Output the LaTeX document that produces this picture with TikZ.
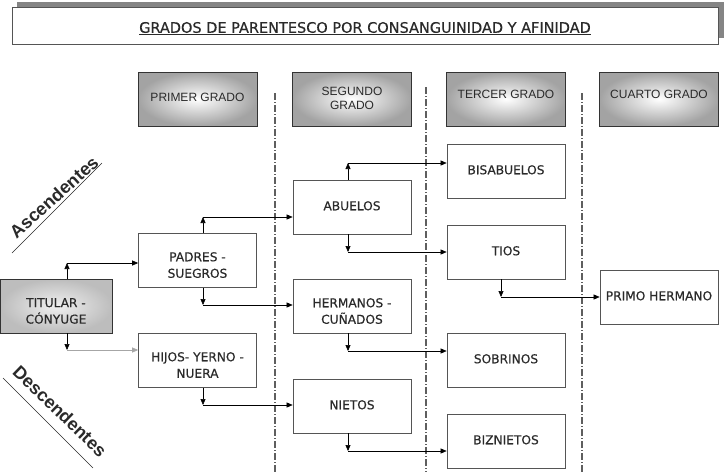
\documentclass[tikz,border=0pt]{standalone}
\usepackage{fontspec}
\setmainfont{DejaVu Sans}
\newfontfamily\boxfont[FakeBold=0.4]{DejaVu Sans}
\newfontfamily\hdrfont{Liberation Sans}
\usetikzlibrary{arrows.meta,shadings}
\definecolor{txt}{HTML}{2A2A2A}
\definecolor{bord}{HTML}{555555}
\definecolor{sepc}{HTML}{5E5E5E}
\tikzset{
  hdr/.style={draw=black!80, line width=0.8pt, inner color=white, outer color=black!36,
    minimum width=119pt, minimum height=54pt, inner sep=0pt},
  hlab/.style={font=\hdrfont\fontsize{12}{13.5}\selectfont, text=txt, align=center, inner sep=0pt},
  bbox/.style={draw=bord, line width=0.7pt, fill=white, minimum width=118pt, minimum height=54pt, inner sep=0pt},
  btext/.style={font=\boxfont\fontsize{12.2}{16.5}\selectfont, text=txt, align=center, inner sep=0pt, anchor=north},
  arr/.style={line width=0.6pt, -{Triangle[length=6pt,width=5pt]}},
  sepline/.style={draw=sepc, line width=2.1pt, dash pattern=on 7pt off 2pt on 1pt off 2pt},
  side/.style={font=\hdrfont\bfseries\fontsize{18}{20}\selectfont, text=txt, inner sep=0pt}
}
\begin{document}
\begin{tikzpicture}[x=1pt,y=-1pt]
\useasboundingbox (0,0) rectangle (725,472);
% title
\fill[black!48] (17,2) rectangle (724,38);
\node[draw=bord, line width=0.8pt, fill=white, minimum width=706pt, minimum height=37pt, inner sep=0pt] (title) at (365,25.5) {};
\node[font=\boxfont\fontsize{14.5}{16}\selectfont, text=txt, inner sep=0pt] (titlet) at (365,28.5) {\underline{GRADOS DE PARENTESCO POR CONSANGUINIDAD Y AFINIDAD}};
% separators
\draw[sepline] (275,93) -- (275,472);
\draw[sepline] (426,87) -- (426,472);
\draw[sepline] (582,93) -- (582,472);
% headers
\node[hdr] (h1) at (197.5,99) {};
\node[hdr] (h2) at (352,99) {};
\node[hdr] (h3) at (506,99) {};
\node[hdr] (h4) at (659,99) {};
\node[hlab] (h1t) at (197.5,97) {PRIMER GRADO};
\node[hlab] (h2t) at (352,98.5) {SEGUNDO\\GRADO};
\node[hlab] (h3t) at (506,94) {TERCER GRADO};
\node[hlab] (h4t) at (659,94) {CUARTO GRADO};
% boxes
\node[bbox, minimum width=112pt, draw=black!80, line width=0.9pt, inner color=black!6, outer color=black!26] (tit) at (56.5,306) {};
\node[bbox] (pad) at (197.5,260.5) {};
\node[bbox] (hij) at (197.5,360.5) {};
\node[bbox] (abu) at (352,207) {};
\node[bbox] (her) at (352,306) {};
\node[bbox] (nie) at (352,406) {};
\node[bbox] (bis) at (506,171) {};
\node[bbox] (tio) at (506,252) {};
\node[bbox] (sob) at (506,360.5) {};
\node[bbox] (biz) at (506,441.5) {};
\node[bbox] (pri) at (659,297.5) {};
% box texts
\node[btext] (titt) at (56,298) {TITULAR -\\CÓNYUGE};
\node[btext] (padt) at (197.5,252) {PADRES -\\SUEGROS};
\node[btext] (hijt) at (197.5,352) {HIJOS- YERNO -\\NUERA};
\node[btext] (abut) at (352,201) {ABUELOS};
\node[btext] (hert) at (352,298) {HERMANOS -\\CUÑADOS};
\node[btext] (niet) at (352,400) {NIETOS};
\node[btext] (bist) at (506,165) {BISABUELOS};
\node[btext] (tiot) at (506,246) {TIOS};
\node[btext] (sobt) at (506,354) {SOBRINOS};
\node[btext] (bizt) at (506,435) {BIZNIETOS};
\node[btext] (prit) at (659,291) {PRIMO HERMANO};
% connectors
\coordinate (c1) at (67,263);
\coordinate (c2) at (67,350);
\coordinate (c3) at (203,217);
\coordinate (c4) at (203,305);
\coordinate (c5) at (203,405);
\coordinate (c6) at (348,163);
\coordinate (c7) at (348,252);
\coordinate (c8) at (348,351);
\coordinate (c9) at (348,451);
\coordinate (c10) at (501,297);
\draw[arr] (tit.north -| c1) -- (c1);
\draw[arr] (c1) -- (c1 -| pad.west);
\draw[arr] (tit.south -| c2) -- (c2);
\draw[arr, draw=black!35] (c2) -- (c2 -| hij.west);
\draw[arr] (pad.north -| c3) -- (c3);
\draw[arr] (c3) -- (c3 -| abu.west);
\draw[arr] (pad.south -| c4) -- (c4);
\draw[arr] (c4) -- (c4 -| her.west);
\draw[arr] (hij.south -| c5) -- (c5);
\draw[arr] (c5) -- (c5 -| nie.west);
\draw[arr] (abu.north -| c6) -- (c6);
\draw[arr] (c6) -- (c6 -| bis.west);
\draw[arr] (abu.south -| c7) -- (c7);
\draw[arr] (c7) -- (c7 -| tio.west);
\draw[arr] (her.south -| c8) -- (c8);
\draw[arr] (c8) -- (c8 -| sob.west);
\draw[arr] (nie.south -| c9) -- (c9);
\draw[arr] (c9) -- (c9 -| biz.west);
\draw[arr] (tio.south -| c10) -- (c10);
\draw[arr] (c10) -- (c10 -| pri.west);
% side labels
\node[side, rotate=42] (asc) at (54,197) {Ascendentes};
\draw[line width=0.6pt, txt] (12,253) -- (102,163);
\node[side, rotate=-44] (desc) at (60,411) {Descendentes};
\draw[line width=0.6pt, txt] (3,378) -- (93,468);
\end{tikzpicture}
\end{document}
